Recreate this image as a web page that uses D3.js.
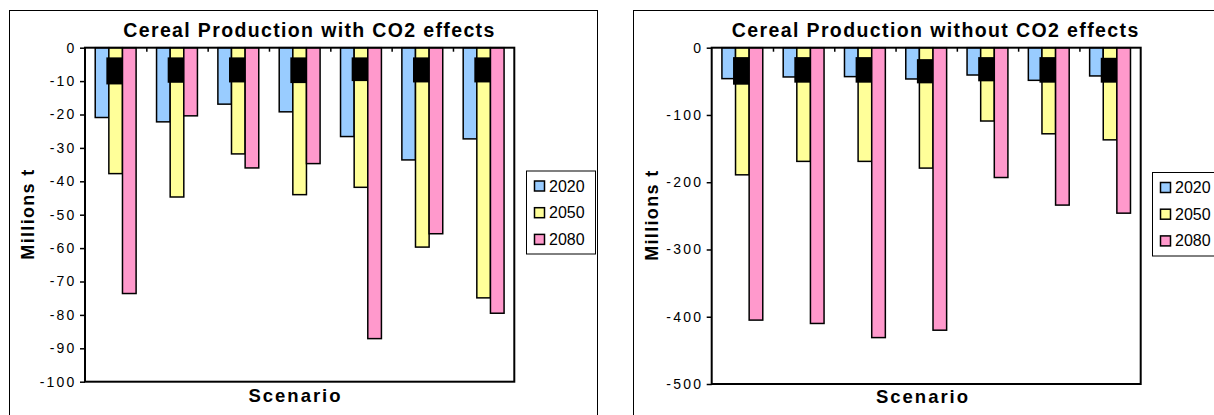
<!DOCTYPE html>
<html>
<head>
<meta charset="utf-8">
<script src="https://cdn.jsdelivr.net/npm/d3@7"></script>
<style>
  html, body { margin: 0; padding: 0; background: #fff; }
  svg { display: block; font-family: Arial, "Liberation Sans", sans-serif; }
</style>
</head>
<body>
<svg id="chart" width="1214" height="415"></svg>
<script>
// scenarios are not labelled on the chart
const scenarios = ['S1', 'S2', 'S3', 'S4', 'S5', 'S6', 'S7'];
const years = ['2020', '2050', '2080'];
const colors = ['#99CCFF', '#FFFF99', '#FF99CC'];

// with CO2 effects (millions t)
const with2020 = [-20.9, -22.2, -16.9, -19.2, -26.6, -33.6, -27.3];
const with2050 = [-37.7, -44.7, -31.8, -44.0, -41.8, -59.7, -74.9];
const with2080 = [-73.6, -20.4, -36.0, -34.7, -87.1, -55.7, -79.5];
const withErrTop = [-2.9, -2.9, -2.9, -2.9, -2.9, -2.9, -2.9];
const withErrBottom = [-11, -10.5, -10.4, -10.6, -10, -10.4, -10.4];
const withTicks = [0, -10, -20, -30, -40, -50, -60, -70, -80, -90, -100];

// without CO2 effects (millions t)
const without2020 = [-46, -43.5, -43, -46.5, -40.6, -48.5, -42];
const without2050 = [-189, -169, -169, -179, -109, -128, -137];
const without2080 = [-405, -410, -431, -420, -193, -234, -246];
const withoutErrTop = [-14, -14, -14, -17, -14, -14, -15];
const withoutErrBottom = [-55, -52, -52, -53, -50, -52, -52];
const withoutTicks = [0, -100, -200, -300, -400, -500];

const svg = d3.select('#chart');

function drawChart(cfg) {
    let { frame, plot, series, errTop, errBottom, ticks, title, titleX, titleW,
          yLabelX, xLabelX, xLabelY, legend } = cfg;

    let g = svg.append('g');

    // chart area frame
    g.append('rect')
        .attr('x', frame.x + 0.5).attr('y', frame.y + 0.5)
        .attr('width', frame.w).attr('height', frame.h)
        .attr('fill', '#fff').attr('stroke', '#000').attr('stroke-width', 1);

    let y = d3.scaleLinear()
        .domain([d3.min(ticks), 0])
        .range([plot.y + plot.h, plot.y]);

    let x0 = d3.scaleBand()
        .domain(scenarios)
        .range([plot.x, plot.x + plot.w])
        .paddingInner(1 / 3)
        .paddingOuter(1 / 6);

    let x1 = d3.scaleBand()
        .domain(years)
        .range([0, x0.bandwidth()]);

    let groups = g.selectAll('g.group')
        .data(scenarios)
        .enter()
        .append('g')
        .classed('group', true)
        .attr('transform', d => `translate(${x0(d)} 0)`);

    groups.selectAll('rect.bar')
        .data((d, i) => years.map((yr, k) => ({ yr, v: series[k][i] })))
        .enter()
        .append('rect')
        .classed('bar', true)
        .attr('x', d => x1(d.yr))
        .attr('y', y(0))
        .attr('width', x1.bandwidth())
        .attr('height', d => y(d.v) - y(0))
        .attr('fill', (d, k) => colors[k])
        .attr('stroke', '#000')
        .attr('stroke-width', 1.5);

    // thick black error marks on the 2050 bars
    groups.append('rect')
        .attr('x', x1('2050') - 2.5)
        .attr('width', x1.bandwidth() + 2.5)
        .attr('y', (d, i) => y(errTop[i]))
        .attr('height', (d, i) => y(errBottom[i]) - y(errTop[i]))
        .attr('fill', '#000');

    // plot area border
    g.append('rect')
        .attr('x', plot.x).attr('y', plot.y)
        .attr('width', plot.w).attr('height', plot.h)
        .attr('fill', 'none').attr('stroke', '#000').attr('stroke-width', 2);

    // category ticks along the zero line
    let xb = d3.scaleLinear().domain([0, scenarios.length]).range([plot.x, plot.x + plot.w]);
    g.append('g')
        .attr('transform', `translate(0 ${y(0)})`)
        .call(d3.axisBottom(xb).tickValues(d3.range(1, scenarios.length)).tickSize(4).tickFormat(''))
        .call(a => a.select('.domain').remove())
        .selectAll('line').attr('stroke', '#000').attr('stroke-width', 1.5);

    let ya = g.append('g')
        .attr('transform', `translate(${plot.x} 0)`)
        .call(d3.axisLeft(y).tickValues(ticks).tickSize(5).tickSizeOuter(0).tickPadding(3.5).tickFormat(d3.format('d')));
    ya.select('.domain').remove();
    ya.selectAll('line').attr('stroke', '#000').attr('stroke-width', 1.5);
    ya.selectAll('text')
        .attr('fill', '#000')
        .style('font-family', 'Arial, "Liberation Sans", sans-serif')
        .style('font-size', '14px')
        .style('letter-spacing', '2.2px')
        .text(d => d < 0 ? '-' + Math.abs(d) : d);

    g.append('text')
        .attr('x', titleX).attr('y', 36.7)
        .attr('text-anchor', 'middle')
        .attr('textLength', titleW).attr('lengthAdjust', 'spacing')
        .style('font-size', '19.5px').style('font-weight', 'bold')
        .text(title);

    g.append('text')
        .attr('transform', `translate(${yLabelX} ${plot.y + plot.h / 2}) rotate(-90)`)
        .attr('text-anchor', 'middle')
        .attr('textLength', 90).attr('lengthAdjust', 'spacing')
        .style('font-size', '18px').style('font-weight', 'bold')
        .text('Millions t');

    g.append('text')
        .attr('x', xLabelX).attr('y', xLabelY)
        .attr('text-anchor', 'middle')
        .attr('textLength', 92).attr('lengthAdjust', 'spacing')
        .style('font-size', '18.5px').style('font-weight', 'bold')
        .text('Scenario');

    // legend
    let lg = g.append('g').attr('transform', `translate(${legend.x} ${legend.y})`);
    lg.append('rect')
        .attr('x', 0.5).attr('y', 0.5)
        .attr('width', legend.w).attr('height', legend.h)
        .attr('fill', '#fff').attr('stroke', '#000').attr('stroke-width', 1);
    let items = lg.selectAll('g.item')
        .data(years)
        .enter()
        .append('g')
        .classed('item', true)
        .attr('transform', (d, i) => `translate(0 ${15 + i * 26.7})`);
    items.append('rect')
        .attr('x', 8.5).attr('y', -4.5)
        .attr('width', 10).attr('height', 10)
        .attr('fill', (d, i) => colors[i])
        .attr('stroke', '#000').attr('stroke-width', 1.5);
    items.append('text')
        .attr('x', 23).attr('y', 6)
        .style('font-size', '16px')
        .text(d => d);
}

drawChart({
    frame: { x: 9, y: 10, w: 588, h: 500 },
    plot: { x: 85, y: 47.7, w: 429.3, h: 334 },
    series: [with2020, with2050, with2080],
    errTop: withErrTop,
    errBottom: withErrBottom,
    ticks: withTicks,
    title: 'Cereal Production with CO2 effects',
    titleX: 308.8, titleW: 371,
    yLabelX: 34,
    xLabelX: 294.5, xLabelY: 401.7,
    legend: { x: 526, y: 170.5, w: 69, h: 83 }
});

drawChart({
    frame: { x: 633, y: 10, w: 620, h: 500 },
    plot: { x: 711.7, y: 47.7, w: 429, h: 336.3 },
    series: [without2020, without2050, without2080],
    errTop: withoutErrTop,
    errBottom: withoutErrBottom,
    ticks: withoutTicks,
    title: 'Cereal Production without CO2 effects',
    titleX: 935, titleW: 406.6,
    yLabelX: 658,
    xLabelX: 922, xLabelY: 403,
    legend: { x: 1152, y: 172, w: 70, h: 83.5 }
});
</script>
</body>
</html>
